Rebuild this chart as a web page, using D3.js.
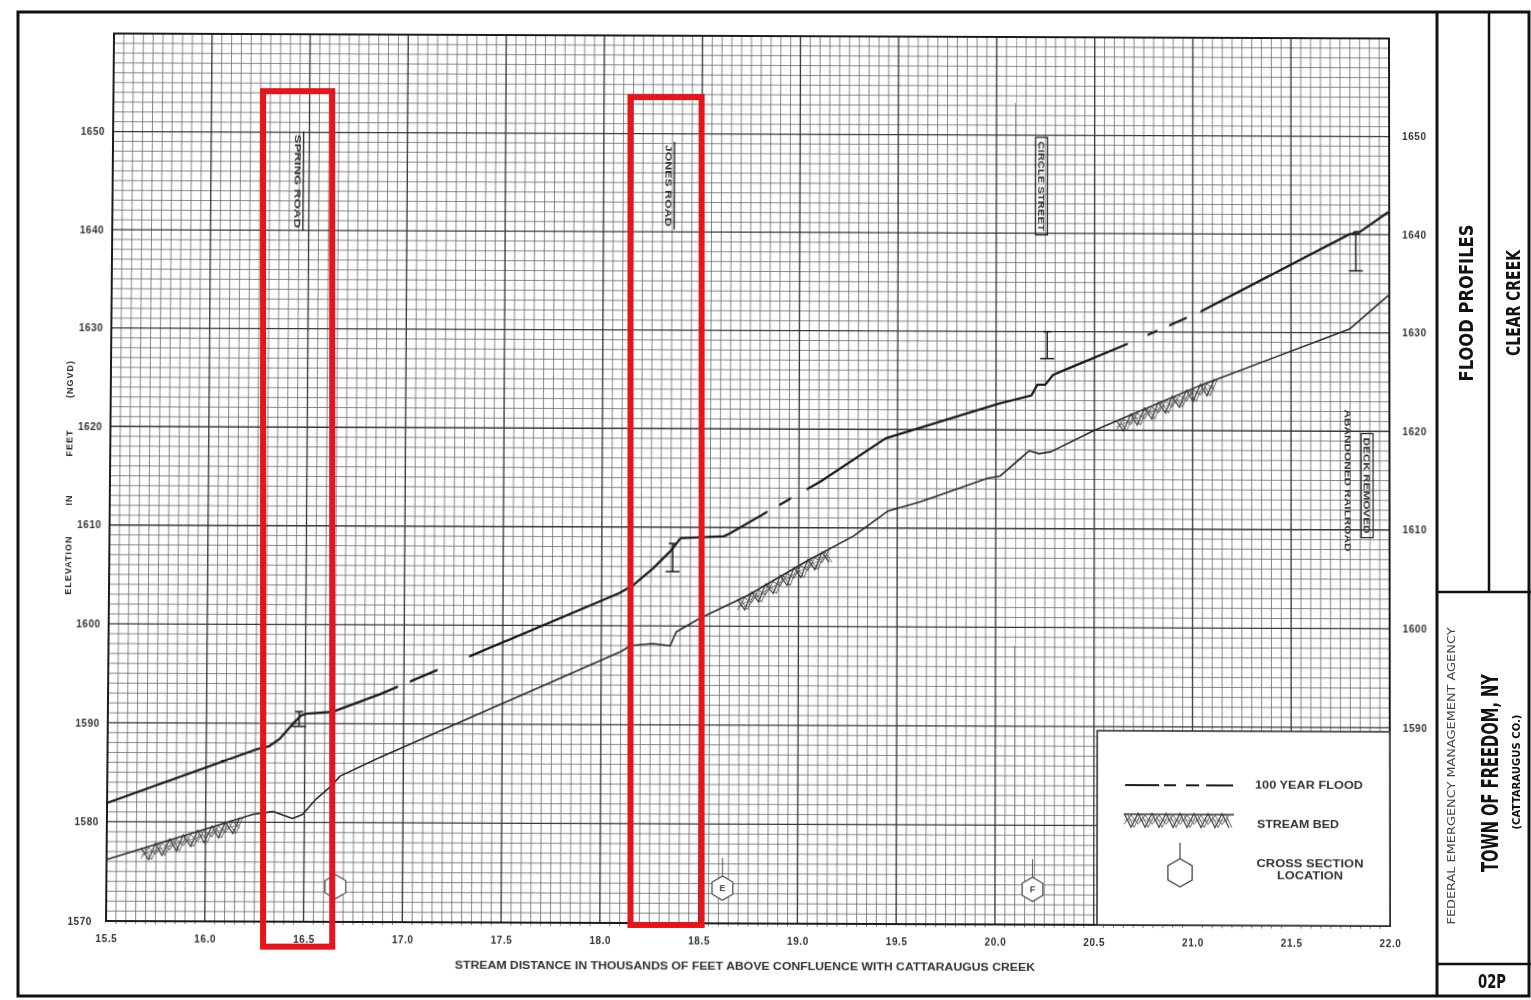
<!DOCTYPE html>
<html>
<head>
<meta charset="utf-8">
<script src="https://cdn.jsdelivr.net/npm/d3@7"></script>
<style>
  body { margin: 0; background: #fff; width: 1531px; height: 1000px; overflow: hidden; position: relative; }
  svg { display: block; position: absolute; left: 0; top: 0; }
  #sheet { transform-origin: 0 0; }
</style>
</head>
<body>
<svg id="sheet" width="1531" height="1000"></svg>
<svg id="page" width="1531" height="1000"></svg>
<script>
// ---- Clear Creek flood profile data ----
// stream distance, thousands of feet above confluence with Cattaraugus Creek
const distTicks = [15.5, 16.0, 16.5, 17.0, 17.5, 18.0, 18.5, 19.0, 19.5, 20.0, 20.5, 21.0, 21.5, 22.0];
const elevTicksLeft = [1570, 1580, 1590, 1600, 1610, 1620, 1630, 1640, 1650];
const elevTicksRight = [1590, 1600, 1610, 1620, 1630, 1640, 1650];

// 100-year flood water surface
const floodDist = [15.50, 16.26, 16.32, 16.37, 16.44, 16.48, 16.51, 16.64, 16.88, 18.09, 18.16, 18.26, 18.35, 18.40,
  18.62, 18.65, 18.84, 19.11, 19.44, 20.02, 20.18, 20.21, 20.25, 20.29, 20.36, 20.67, 21.04, 21.80, 21.815, 21.825, 21.85, 21.995];
const floodElev = [1581.9, 1587.4, 1587.7, 1588.4, 1590.0, 1590.8, 1591.0, 1591.2, 1593.0, 1603.3, 1604.1, 1605.8, 1607.6, 1608.9,
  1609.1, 1609.4, 1611.6, 1614.7, 1619.1, 1622.7, 1623.5, 1624.6, 1624.6, 1625.6, 1626.2, 1628.8, 1632.1, 1640.05, 1640.05, 1640.25, 1640.25, 1642.3];
// breaks in the long-dash flood line [from, to]
const floodGaps = [[16.97, 17.03], [17.17, 17.33], [18.84, 18.90], [18.96, 19.04], [20.67, 20.77], [20.82, 20.88], [20.97, 21.04]];

// stream bed
const bedDist = [15.50, 16.24, 16.34, 16.44, 16.49, 16.56, 16.63, 16.68, 16.88, 18.10, 18.15, 18.26, 18.35, 18.38, 18.50,
  18.74, 19.04, 19.28, 19.45, 19.62, 19.96, 20.02, 20.17, 20.22, 20.28, 20.49, 21.04, 21.80, 21.995];
const bedElev = [1576.2, 1580.8, 1581.1, 1580.4, 1580.8, 1582.4, 1583.6, 1584.7, 1586.6, 1597.4, 1598.0, 1598.2, 1598.0, 1599.4, 1600.8,
  1603.1, 1606.6, 1609.2, 1611.7, 1612.7, 1615.1, 1615.3, 1617.9, 1617.6, 1617.8, 1619.9, 1624.6, 1630.4, 1633.8];
// stretches of the bed drawn with the stream-bed hatch
const bedHatch = [[15.67, 16.20], [18.69, 19.18], [20.61, 21.13]];

// bridge low-chord / deck symbols
const bridgeDist = [16.47, 18.36, 20.26, 21.83];
const bridgeTop = [1591.2, 1608.35, 1630.0, 1640.06];
const bridgeBottom = [1589.7, 1605.5, 1627.26, 1636.3];

// structure labels
const roadNames = [["SPRING ROAD"], ["JONES ROAD"], ["CIRCLE STREET"], ["ABANDONED RAILROAD", "DECK REMOVED"]];
const roadDist = [16.44, 18.33, 20.23, 21.79];
const roadElev = [1645.0, 1644.7, 1644.8, 1615.0];
const roadStyle = ["rule", "rule", "box", "rail"];

// cross sections
const xsDist = [16.66, 18.62, 20.19];
const xsLetter = ["", "E", "F"];

// highlighted reaches
const hiDist0 = [16.28, 18.14];
const hiDist1 = [16.63, 18.50];
const hiElev0 = [1567.6, 1569.8];
const hiElev1 = [1654.4, 1653.8];

// ---- drawing ----
const W = 1531, H = 1000;
const SANS = "'Liberation Sans', Arial, sans-serif";
const NARROW = "'Liberation Sans Narrow', 'DejaVu Sans Condensed', 'Liberation Sans', sans-serif";
const INK = "#1c1c1c";

const x = d3.scaleLinear().domain([15.5, 22.0]).range([109, 1393]);
const y = d3.scaleLinear().domain([1570, 1660]).range([923, 36]);

// ---------- the profile sheet (graph paper, profiles, labels) ----------
const sheet = d3.select("#sheet");
const defs = sheet.append("defs");

// graph paper
const grid = sheet.append("g");
const fineX = d3.range(0, 131).map(i => 15.5 + i * 0.05);
const fineY = d3.range(1570, 1661, 1);
grid.selectAll("line.fx").data(fineX.filter((d, i) => i % 10 !== 0)).join("line")
  .attr("x1", d => x(d)).attr("x2", d => x(d)).attr("y1", y(1660)).attr("y2", y(1570) + 3)
  .attr("stroke", "#707070").attr("stroke-width", 0.85);
grid.selectAll("line.fy").data(fineY.filter(d => d % 10 !== 0)).join("line")
  .attr("y1", d => y(d)).attr("y2", d => y(d)).attr("x1", x(15.5)).attr("x2", x(22))
  .attr("stroke", "#707070").attr("stroke-width", 0.85);
grid.selectAll("line.mx").data(distTicks).join("line")
  .attr("x1", d => x(d)).attr("x2", d => x(d)).attr("y1", y(1660)).attr("y2", y(1570))
  .attr("stroke", "#383838").attr("stroke-width", 1.35);
grid.selectAll("line.my").data(d3.range(1570, 1661, 10)).join("line")
  .attr("y1", d => y(d)).attr("y2", d => y(d)).attr("x1", x(15.5)).attr("x2", x(22))
  .attr("stroke", "#383838").attr("stroke-width", 1.35);
sheet.append("rect")
  .attr("x", x(15.5)).attr("y", y(1660)).attr("width", x(22) - x(15.5)).attr("height", y(1570) - y(1660))
  .attr("fill", "none").attr("stroke", INK).attr("stroke-width", 2);

// axes
const axL = sheet.append("g").attr("transform", `translate(${x(15.5) - 8},0)`)
  .call(d3.axisLeft(y).tickValues(elevTicksLeft).tickSize(0).tickPadding(0).tickFormat(d3.format("d")));
const axR = sheet.append("g").attr("transform", `translate(${x(22) + 13},0)`)
  .call(d3.axisRight(y).tickValues(elevTicksRight).tickSize(0).tickPadding(0).tickFormat(d3.format("d")));
const axB = sheet.append("g").attr("transform", `translate(0,${y(1570) + 14})`)
  .call(d3.axisBottom(x).tickValues(distTicks).tickSize(0).tickPadding(0).tickFormat(d3.format(".1f")));
[axL, axR, axB].forEach(a => {
  a.select(".domain").remove();
  a.selectAll("text").attr("font-family", SANS).attr("font-weight", "bold")
    .attr("font-size", 10).attr("letter-spacing", 0.6).attr("fill", "#333");
});
axL.selectAll(".tick").filter(d => d === 1570).select("text").attr("dx", -6);

// axis titles
const ttl = sheet.append("g").attr("font-family", SANS).attr("font-weight", "bold")
  .attr("font-size", 9).attr("fill", "#333").attr("letter-spacing", 1);
[["ELEVATION", 569], ["IN", 504], ["FEET", 447], ["(NGVD)", 383]].forEach(([t, py]) => {
  ttl.append("text").attr("transform", `translate(68,${py})rotate(-90)`)
    .attr("text-anchor", "middle").attr("dominant-baseline", "central").text(t);
});
ttl.append("text").attr("x", 748).attr("y", 969).attr("text-anchor", "middle")
  .attr("font-size", 10).attr("letter-spacing", 0).attr("textLength", 580).attr("lengthAdjust", "spacingAndGlyphs")
  .text("STREAM DISTANCE IN THOUSANDS OF FEET ABOVE CONFLUENCE WITH CATTARAUGUS CREEK");

// profiles
const line = d3.line().x(d => x(d[0])).y(d => y(d[1]));
const floodPts = floodDist.map((d, i) => [d, floodElev[i]]);
const bedPts = bedDist.map((d, i) => [d, bedElev[i]]);

const mask = defs.append("mask").attr("id", "dash-breaks").attr("maskUnits", "userSpaceOnUse")
  .attr("x", 0).attr("y", 0).attr("width", W).attr("height", H);
mask.append("rect").attr("x", 0).attr("y", 0).attr("width", W).attr("height", H).attr("fill", "#fff");
floodGaps.forEach(g => mask.append("rect").attr("x", x(g[0])).attr("y", 0)
  .attr("width", x(g[1]) - x(g[0])).attr("height", H).attr("fill", "#000"));

const bedPath = sheet.append("path").datum(bedPts).attr("d", line)
  .attr("fill", "none").attr("stroke", "#2a2a2a").attr("stroke-width", 1.6).attr("stroke-linejoin", "round");
sheet.append("path").datum(floodPts).attr("d", line).attr("mask", "url(#dash-breaks)")
  .attr("fill", "none").attr("stroke", INK).attr("stroke-width", 2.3).attr("stroke-linejoin", "round");

// stream-bed hatch: zigzag triangles hanging below the bed line
function hatch(g, pts, depth, step) {
  const sel = [];
  let nx = pts[0][0];
  pts.forEach(p => { if (p[0] >= nx) { sel.push(p); nx += step / 2; } });
  const zig = (phase, top, bot) => sel.map((p, i) => [p[0], p[1] + ((i + phase) % 2 ? bot : top)]);
  const pl = d3.line();
  g.append("path").attr("d", pl(zig(0, -1, depth))).attr("fill", "none").attr("stroke", "#333").attr("stroke-width", 1.2);
  g.append("path").attr("d", pl(zig(0, -1, depth).map(p => [p[0] + 3, p[1]]))).attr("fill", "none").attr("stroke", "#555").attr("stroke-width", 0.9);
  g.append("path").attr("d", pl(zig(1, 1, depth * 0.75))).attr("fill", "none").attr("stroke", "#444").attr("stroke-width", 0.9);
  g.append("path").attr("d", pl(sel.map(p => [p[0], p[1] + depth * 0.45]))).attr("fill", "none").attr("stroke", "#666").attr("stroke-width", 0.7);
}
const bedNode = bedPath.node();
const bedLen = bedNode.getTotalLength();
const bedSamples = d3.range(0, bedLen, 1).map(l => { const p = bedNode.getPointAtLength(l); return [p.x, p.y]; });
const hatchG = sheet.append("g");
bedHatch.forEach(r => {
  const pts = bedSamples.filter(p => p[0] >= x(r[0]) && p[0] <= x(r[1]));
  hatch(hatchG, pts, 13, 14);
});

// bridge symbols
const br = sheet.append("g").attr("stroke", INK).attr("stroke-width", 1.5);
bridgeDist.forEach((d, i) => {
  const bx = x(d);
  br.append("line").attr("x1", bx).attr("x2", bx).attr("y1", y(bridgeTop[i])).attr("y2", y(bridgeBottom[i]));
  br.append("line").attr("x1", bx - 7).attr("x2", bx + 7).attr("y1", y(bridgeBottom[i])).attr("y2", y(bridgeBottom[i]));
  br.append("line").attr("x1", bx - 4).attr("x2", bx + 4).attr("y1", y(bridgeTop[i])).attr("y2", y(bridgeTop[i]));
});

// structure labels (vertical text, reading downward)
const labelLength = { "SPRING ROAD": 94, "JONES ROAD": 82, "CIRCLE STREET": 90, "ABANDONED RAILROAD": 142, "DECK REMOVED": 96 };
const lab = sheet.append("g").attr("font-family", SANS).attr("font-weight", "bold").attr("font-size", 8.5).attr("fill", "#333");
roadNames.forEach((lines, i) => {
  const g = lab.append("g").attr("transform", `translate(${x(roadDist[i])},${y(roadElev[i])})`);
  lines.forEach((t, k) => {
    const len = labelLength[t];
    g.append("text").attr("transform", `translate(${k * 19},${k * 5})rotate(90)`)
      .attr("text-anchor", "middle").attr("dominant-baseline", "central")
      .attr("textLength", len).attr("lengthAdjust", "spacingAndGlyphs").text(t);
    if (roadStyle[i] === "rule") {
      g.append("line").attr("x1", 6).attr("x2", 6).attr("y1", -len / 2 - 3).attr("y2", len / 2 + 3)
        .attr("stroke", INK).attr("stroke-width", 1.3);
    } else if (roadStyle[i] === "box" || (roadStyle[i] === "rail" && k === 1)) {
      g.append("rect").attr("x", k * 19 - 6).attr("y", k * 5 - len / 2 - 4).attr("width", 12).attr("height", len + 8)
        .attr("fill", "none").attr("stroke", INK).attr("stroke-width", 1.2);
    }
  });
});

// cross-section markers
const hex = r => d3.range(6).map(k => { const a = -Math.PI / 2 + k * Math.PI / 3; return [r * Math.cos(a), r * Math.sin(a)]; });
const xsG = sheet.append("g");
xsDist.forEach((d, i) => {
  const g = xsG.append("g").attr("transform", `translate(${x(d)},${y(1570) - 35})`);
  g.append("path").attr("d", d3.line()(hex(12)) + "Z").attr("fill", "#fff").attr("stroke", "#444").attr("stroke-width", 1.2);
  if (xsLetter[i]) {
    g.append("line").attr("x1", 0).attr("x2", 0).attr("y1", -30).attr("y2", -12).attr("stroke", "#555").attr("stroke-width", 1);
  }
  g.append("text").attr("text-anchor", "middle").attr("dominant-baseline", "central")
    .attr("font-family", SANS).attr("font-size", 9).attr("font-weight", "bold").attr("fill", "#444").text(xsLetter[i]);
});

// legend
const lg = sheet.append("g");
lg.append("rect").attr("x", 1100).attr("y", 730).attr("width", x(22) - 1100).attr("height", y(1570) - 730)
  .attr("fill", "#fff").attr("stroke", "#333").attr("stroke-width", 1.6);
lg.append("line").attr("x1", 1128).attr("x2", 1236).attr("y1", 784).attr("y2", 784)
  .attr("stroke", INK).attr("stroke-width", 2).attr("stroke-dasharray", "34,5,12,10,13,7,27");
const legPts = d3.range(1127, 1237, 1).map(px => [px, 813]);
lg.append("line").attr("x1", 1127).attr("x2", 1237).attr("y1", 813).attr("y2", 813).attr("stroke", "#333").attr("stroke-width", 1.4);
hatch(lg, legPts, 13, 14);
const lh = lg.append("g").attr("transform", "translate(1183,871)");
lh.append("path").attr("d", d3.line()(hex(14)) + "Z").attr("fill", "none").attr("stroke", "#444").attr("stroke-width", 1.3);
lh.append("line").attr("x1", 0).attr("x2", 0).attr("y1", -30).attr("y2", -14).attr("stroke", "#444").attr("stroke-width", 1.2);
const lt = lg.append("g").attr("font-family", SANS).attr("font-weight", "bold").attr("font-size", 10).attr("fill", "#333");
lt.append("text").attr("x", 1258).attr("y", 787).attr("textLength", 108).attr("lengthAdjust", "spacingAndGlyphs").text("100 YEAR FLOOD");
lt.append("text").attr("x", 1260).attr("y", 826).attr("textLength", 82).attr("lengthAdjust", "spacingAndGlyphs").text("STREAM BED");
lt.append("text").attr("x", 1313).attr("y", 865).attr("text-anchor", "middle").attr("textLength", 107).attr("lengthAdjust", "spacingAndGlyphs").text("CROSS SECTION");
lt.append("text").attr("x", 1313).attr("y", 877).attr("text-anchor", "middle").attr("textLength", 66).attr("lengthAdjust", "spacingAndGlyphs").text("LOCATION");

// the sheet lies slightly out of square on the page: map the plot corners with a projective warp
function homography(src, dst) {
  const A = [], b = [];
  for (let i = 0; i < 4; i++) {
    const [sx, sy] = src[i], [u, v] = dst[i];
    A.push([sx, sy, 1, 0, 0, 0, -u * sx, -u * sy]); b.push(u);
    A.push([0, 0, 0, sx, sy, 1, -v * sx, -v * sy]); b.push(v);
  }
  const n = 8;
  for (let c = 0; c < n; c++) {
    let p = c;
    for (let r = c + 1; r < n; r++) if (Math.abs(A[r][c]) > Math.abs(A[p][c])) p = r;
    [A[c], A[p]] = [A[p], A[c]]; [b[c], b[p]] = [b[p], b[c]];
    for (let r = 0; r < n; r++) if (r !== c) {
      const f = A[r][c] / A[c][c];
      for (let k = c; k < n; k++) A[r][k] -= f * A[c][k];
      b[r] -= f * b[c];
    }
  }
  return b.map((v, i) => v / A[i][i]);
}
const flatCorners = [[x(15.5), y(1660)], [x(22), y(1660)], [x(22), y(1570)], [x(15.5), y(1570)]];
const pageCorners = [[114, 33.5], [1389, 38.5], [1390, 926], [106, 921]];
const h = homography(flatCorners, pageCorners);
d3.select("#sheet").style("transform",
  `matrix3d(${h[0]},${h[3]},0,${h[6]},${h[1]},${h[4]},0,${h[7]},0,0,1,0,${h[2]},${h[5]},0,1)`);

// ---------- page overlay: highlight boxes, frame, title block ----------
const page = d3.select("#page");
page.append("g").selectAll("rect").data(hiDist0).join("rect")
  .attr("x", (d, i) => x(d)).attr("y", (d, i) => y(hiElev1[i]))
  .attr("width", (d, i) => x(hiDist1[i]) - x(d)).attr("height", (d, i) => y(hiElev0[i]) - y(hiElev1[i]))
  .attr("fill", "none").attr("stroke", "#e8141c").attr("stroke-width", 6);

const fr = page.append("g").attr("stroke", "#111").attr("fill", "none");
fr.append("rect").attr("x", 18).attr("y", 12).attr("width", 1511).attr("height", 984).attr("stroke-width", 3);
fr.append("line").attr("x1", 1437).attr("x2", 1437).attr("y1", 12).attr("y2", 996).attr("stroke-width", 3);
fr.append("line").attr("x1", 1489).attr("x2", 1489).attr("y1", 12).attr("y2", 592).attr("stroke-width", 2.5);
fr.append("line").attr("x1", 1437).attr("x2", 1531).attr("y1", 592).attr("y2", 592).attr("stroke-width", 2.5);
fr.append("line").attr("x1", 1437).attr("x2", 1531).attr("y1", 964).attr("y2", 964).attr("stroke-width", 2.5);

const tb = page.append("g").attr("font-family", NARROW).attr("font-weight", "bold").attr("fill", "#111");
function vtext(cx, cy, size, len, t, weight, fill) {
  tb.append("text").attr("transform", `translate(${cx},${cy})rotate(-90)`)
    .attr("text-anchor", "middle").attr("dominant-baseline", "central")
    .attr("font-size", size).attr("textLength", len).attr("lengthAdjust", "spacingAndGlyphs")
    .attr("font-weight", weight || "bold").attr("fill", fill || "#111").text(t);
}
vtext(1466, 303, 20, 157, "FLOOD PROFILES");
vtext(1513, 303, 20, 106, "CLEAR CREEK");
vtext(1451, 776, 10, 297, "FEDERAL EMERGENCY MANAGEMENT AGENCY", "normal", "#444");
vtext(1490, 773, 23, 198, "TOWN OF FREEDOM, NY");
vtext(1516, 772, 11, 115, "(CATTARAUGUS CO.)");
tb.append("text").attr("x", 1492).attr("y", 988).attr("text-anchor", "middle").attr("font-size", 20)
  .attr("textLength", 28).attr("lengthAdjust", "spacingAndGlyphs").text("02P");
</script>
</body>
</html>
